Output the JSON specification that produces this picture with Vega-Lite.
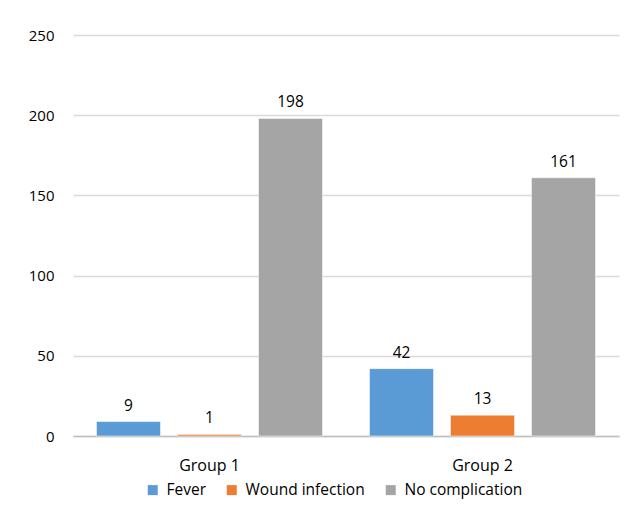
{
  "$schema": "https://vega.github.io/schema/vega-lite/v6.json",
  "width": 546,
  "height": 401,
  "autosize": {"type": "none"},
  "padding": {"left": 73, "top": 35, "right": 8, "bottom": 86},
  "background": "white",
  "config": {
    "view": {"stroke": null},
    "font": "Open Sans",
    "axis": {"labelFont": "Open Sans", "labelFontSize": 15, "labelColor": "#000000"},
    "legend": {"labelFont": "Open Sans", "labelFontSize": 15.5, "labelColor": "#000000"}
  },
  "data": {
    "values": [
      {"group": "Group 1", "type": "Fever", "value": 9},
      {"group": "Group 1", "type": "Wound infection", "value": 1},
      {"group": "Group 1", "type": "No complication", "value": 198},
      {"group": "Group 2", "type": "Fever", "value": 42},
      {"group": "Group 2", "type": "Wound infection", "value": 13},
      {"group": "Group 2", "type": "No complication", "value": 161}
    ]
  },
  "encoding": {
    "x": {
      "field": "group", "type": "nominal",
      "scale": {"paddingInner": 0, "paddingOuter": 0},
      "axis": {"title": null, "labelAngle": 0, "ticks": false, "domainColor": "#bfbfbf", "domainWidth": 1.5, "labelPadding": 21, "labelFontSize": 16}
    },
    "xOffset": {
      "field": "type", "type": "nominal",
      "sort": ["Fever", "Wound infection", "No complication"],
      "scale": {"paddingInner": 0.21, "paddingOuter": 0.29}
    },
    "y": {
      "field": "value", "type": "quantitative",
      "scale": {"domain": [0, 250]},
      "axis": {"title": null, "values": [0, 50, 100, 150, 200, 250], "ticks": false, "domain": false, "gridColor": "#d9d9d9", "gridWidth": 1.5, "labelPadding": 19}
    }
  },
  "layer": [
    {
      "mark": {"type": "bar", "stroke": "white", "strokeWidth": 0.5},
      "encoding": {
        "color": {
          "field": "type", "type": "nominal",
          "sort": ["Fever", "Wound infection", "No complication"],
          "scale": {"domain": ["Fever", "Wound infection", "No complication"], "range": ["#5b9bd5", "#ed7d31", "#a5a5a5"]},
          "legend": {"title": null, "orient": "none", "legendX": 72, "legendY": 447, "direction": "horizontal", "symbolType": "square", "symbolSize": 100, "symbolStrokeWidth": 0, "columnPadding": 18, "labelOffset": 6}
        }
      }
    },
    {
      "mark": {"type": "text", "baseline": "bottom", "dy": -8, "fontSize": 15.5, "font": "Open Sans", "color": "#000000"},
      "encoding": {"text": {"field": "value", "type": "quantitative"}}
    }
  ]
}
